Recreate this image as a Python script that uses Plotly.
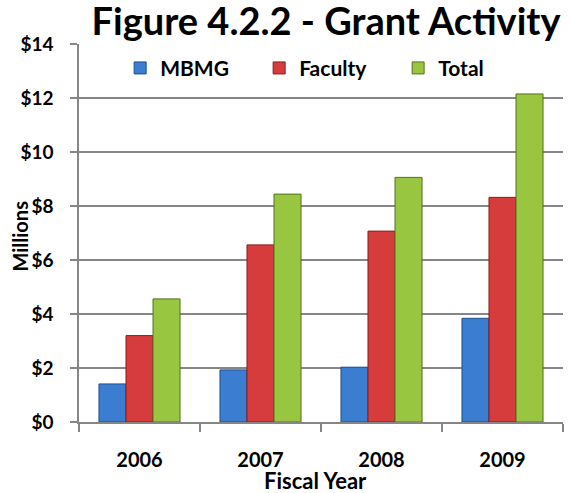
import plotly.graph_objects as go

years = ["2006", "2007", "2008", "2009"]
mbmg = [1.41, 1.93, 2.03, 3.84]
faculty = [3.20, 6.56, 7.07, 8.32]
total = [4.56, 8.44, 9.06, 12.15]
tick_vals = [0, 2, 4, 6, 8, 10, 12, 14]
tick_text = ["$0", "$2", "$4", "$6", "$8", "$10", "$12", "$14"]

FONT = "Lato"
series = [
    ("MBMG", mbmg, "#3B7DD0", "#1E4F8F"),
    ("Faculty", faculty, "#D63C3C", "#8A1C1C"),
    ("Total", total, "#98C640", "#55701F"),
]

fig = go.Figure()
for name, vals, col, edge in series:
    fig.add_trace(go.Bar(
        x=years, y=vals, name=name,
        marker=dict(color=col, line=dict(color=edge, width=1)),
    ))

fig.update_layout(
    width=570, height=493,
    margin=dict(l=79, r=7, t=44, b=71, autoexpand=False),
    paper_bgcolor="white", plot_bgcolor="white",
    barmode="group", bargap=0.33, bargroupgap=0,
    font=dict(family=FONT, color="black"),
    title=dict(text="Figure 4.2.2 - Grant Activity",
               font=dict(family=FONT, size=38, color="black", weight="bold"),
               x=0.572, xanchor="center", y=0.957, yanchor="middle"),
    showlegend=True,
    legend=dict(orientation="h", x=0.085, y=0.99, xanchor="left", yanchor="top",
                bgcolor="rgba(0,0,0,0)",
                font=dict(family=FONT, size=21, color="black", weight="bold"),
                entrywidth=94, entrywidthmode="pixels", traceorder="normal"),
    xaxis=dict(
        type="category", tickson="boundaries", ticks="outside", ticklen=8,
        tickcolor="#868686", tickwidth=1.5, automargin=False,
        showline=True, linecolor="#868686", linewidth=1.5,
        showgrid=False, ticklabelstandoff=19,
        tickfont=dict(family=FONT, size=20, color="black", weight="bold"),
        range=[-0.5, 3.5],
    ),
    yaxis=dict(
        range=[0, 14], tickvals=tick_vals, ticktext=tick_text, automargin=False,
        ticks="outside", ticklen=7, tickcolor="#868686", tickwidth=1.5,
        showline=True, linecolor="#868686", linewidth=1.5,
        showgrid=True, gridcolor="#868686", gridwidth=1.5,
        zeroline=False, ticklabelstandoff=13,
        tickfont=dict(family=FONT, size=19, color="black", weight="bold"),
    ),
    annotations=[
        dict(text="Fiscal Year", xref="paper", yref="paper", x=0.5, y=0,
             xanchor="center", yanchor="middle", xshift=-6, yshift=-58,
             showarrow=False,
             font=dict(family=FONT, size=22, color="black", weight="bold")),
        dict(text="Millions", xref="paper", yref="paper", x=0, y=0.5,
             xanchor="center", yanchor="middle", xshift=-60, yshift=-3.5,
             textangle=-90, showarrow=False,
             font=dict(family=FONT, size=20, color="black", weight="bold")),
    ],
)

post = ("document.body.style.margin='0px';"
        "document.body.style.overflow='hidden';"
        "var gd=document.getElementById('{plot_id}');"
        "Plotly.relayout(gd,{width:570,height:493});")
fig.write_html("out.html", post_script=post, config={"displayModeBar": False})
